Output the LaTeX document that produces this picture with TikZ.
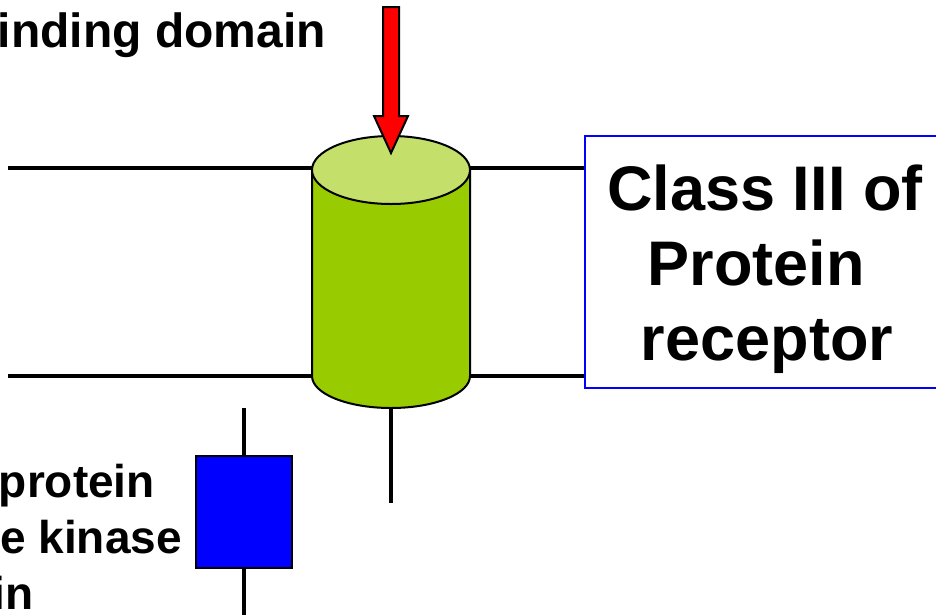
\documentclass[tikz,border=0pt]{standalone}
\usepackage{fontspec}
\setmainfont{Liberation Sans}
\begin{document}
\begin{tikzpicture}[x=1pt,y=-1pt,
  membrane/.style={line width=4pt},
  stem/.style={line width=3.5pt},
  outline/.style={line width=2pt,draw=black},
  lbl/.style={font=\bfseries\fontsize{46}{56}\selectfont,inner sep=0pt},
  toplbl/.style={font=\bfseries\fontsize{48}{56}\selectfont,inner sep=0pt},
  biglbl/.style={font=\bfseries\fontsize{63}{75}\selectfont,inner sep=0pt}]
\definecolor{bodygreen}{HTML}{99CC00}
\definecolor{topgreen}{HTML}{C4DF6A}
\useasboundingbox (0,0) rectangle (936,614);

% key points of the receptor
\coordinate (cylTL) at (312,168);
\coordinate (cylTR) at (470,168);
\coordinate (cylBL) at (312,376);
\coordinate (cylBR) at (470,376);
\coordinate (cylBottom) at (391,408);
\coordinate (stemEnd) at (391,503);
\coordinate (memTopL) at (8,168);
\coordinate (memBotL) at (8,376);
\coordinate (boxTopL) at (585,168);
\coordinate (boxBotL) at (585,376);

% membrane lines
\draw[membrane] (memTopL) -- (cylTL);
\draw[membrane] (memBotL) -- (cylBL);
\draw[membrane] (cylTR) -- (boxTopL);
\draw[membrane] (cylBR) -- (boxBotL);

% cytoplasmic stem
\draw[stem] (cylBottom) -- (stemEnd);

% receptor cylinder body
\path[fill=bodygreen,outline] (312,170) -- (312,376)
  arc[start angle=180,end angle=0,x radius=79,y radius=32] -- (470,170);
% top face
\path[fill=topgreen,outline] (391,170) ellipse[x radius=79,y radius=34];

% ligand arrow
\path[fill=red,outline,line join=miter] (383,7) -- (399,7) -- (399,116) -- (408,116)
  -- (391,153) -- (374,116) -- (383,116) -- cycle;

% kinase domain
\node[draw=black,line width=2pt,fill=blue,minimum width=96pt,minimum height=112pt,
  inner sep=0pt] (kinase) at (244,512) {};
\coordinate (kinTop) at (244,408);
\coordinate (kinBot) at (244,620);
\draw[stem] (kinTop) -- (kinase.north);
\draw[stem] (kinase.south) -- (kinBot);

% class label
\draw[blue,line width=2pt] (585,136) rectangle (950,388);
\node[biglbl,anchor=base] (cl1) at (765,210) {Class III of};
\node[biglbl,anchor=base] (cl2) at (756,285) {Protein};
\node[biglbl,anchor=base] (cl3) at (767,360) {receptor};

% domain labels
\node[toplbl,anchor=base east] (lig) at (326,47) {inding domain};
\node[lbl,anchor=base east] (k1) at (155,497) {protein};
\node[lbl,anchor=base east] (k2) at (182,553) {e kinase};
\node[lbl,anchor=base east] (k3) at (34,609) {in};
\end{tikzpicture}
\end{document}
